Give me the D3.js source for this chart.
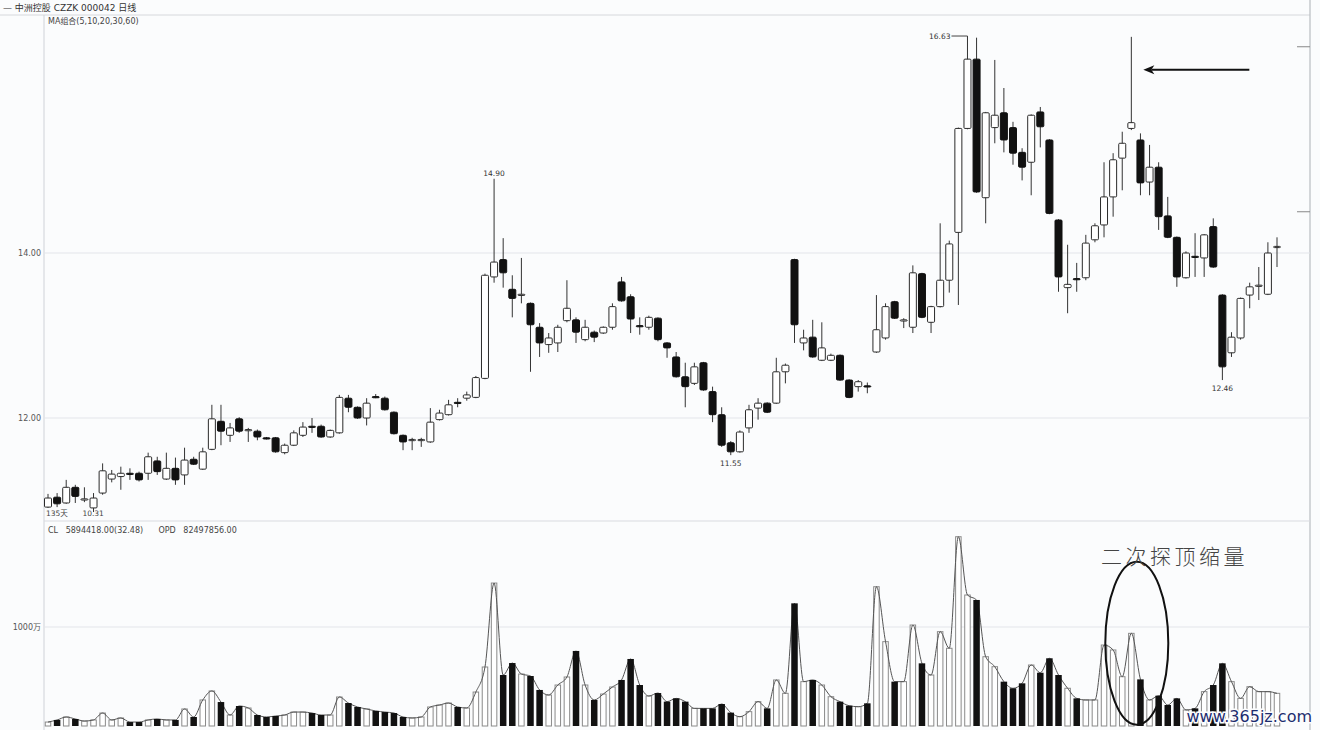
<!DOCTYPE html>
<html><head><meta charset="utf-8">
<script src="https://cdn.jsdelivr.net/npm/d3@7/dist/d3.min.js"></script>
<style>
body{margin:0;background:#fbfcfd}
svg{display:block}
text{font-family:"DejaVu Sans","Noto Sans CJK SC",sans-serif}
</style>
</head><body>
<svg id="chart" width="1320" height="730"></svg>
<script>
// ---- data ----
const opens = [10.92,11.04,10.97,11.16,11.01,10.91,11.09,11.26,11.29,11.33,11.33,11.33,11.48,11.26,11.39,11.31,11.50,11.38,11.62,11.96,
11.79,11.99,11.85,11.84,11.76,11.76,11.58,11.67,11.79,11.90,11.90,11.77,11.82,12.24,12.13,12.00,12.26,12.24,12.07,11.79,
11.73,11.73,11.71,11.98,12.04,12.19,12.24,12.25,12.48,13.71,13.92,13.56,13.49,13.39,13.10,12.89,12.91,13.18,13.19,12.95,
13.04,13.03,13.10,13.65,13.47,13.12,13.10,13.21,12.91,12.74,12.50,12.42,12.67,12.32,12.04,11.70,11.59,11.88,12.12,12.18,
12.18,12.56,13.92,12.91,12.98,12.70,12.70,12.76,12.46,12.38,12.39,12.80,12.97,13.41,13.18,13.10,13.75,13.16,13.35,13.67,
14.25,15.51,16.35,14.67,15.52,15.70,15.52,15.22,15.10,15.71,15.37,14.40,13.58,13.69,13.70,14.16,14.34,14.68,15.15,15.51,
15.37,14.86,15.04,14.45,14.19,13.70,13.96,13.94,14.32,13.49,12.79,12.97,13.49,13.60,13.50,14.07];
const highs = [11.08,11.09,11.25,11.19,11.16,11.09,11.45,11.37,11.41,11.39,11.35,11.58,11.53,11.58,11.52,11.64,11.53,11.64,12.16,12.16,
11.94,12.01,11.88,11.86,11.77,11.77,11.69,11.85,11.95,12.00,11.92,11.86,12.28,12.28,12.14,12.24,12.29,12.26,12.08,11.80,
11.76,11.76,12.12,12.10,12.22,12.24,12.32,12.51,13.75,14.90,14.18,13.73,13.94,13.40,13.15,13.03,13.13,13.67,13.22,13.19,
13.06,13.11,13.39,13.71,13.50,13.22,13.24,13.22,12.92,12.80,12.67,12.67,12.68,12.38,12.13,11.72,11.85,12.16,12.24,12.19,
12.73,12.66,13.93,13.07,13.19,13.16,12.78,12.77,12.47,12.46,12.43,13.49,13.39,13.42,13.21,13.85,13.76,13.36,14.36,14.15,
15.52,16.63,16.61,15.71,16.34,16.00,15.59,15.27,15.68,15.77,15.38,14.41,14.10,13.88,14.22,14.36,15.10,15.21,15.47,16.62,
15.45,15.31,15.10,14.68,14.20,14.02,14.24,14.23,14.42,13.50,13.04,13.46,13.64,13.83,14.13,14.19];
const lows = [10.91,10.92,10.96,10.97,10.98,10.86,11.07,11.22,11.13,11.25,11.23,11.25,11.31,11.25,11.19,11.19,11.43,11.37,11.61,11.67,
11.71,11.82,11.71,11.73,11.74,11.58,11.56,11.66,11.77,11.82,11.76,11.76,11.81,12.07,11.99,11.91,12.24,12.09,11.80,11.61,
11.61,11.65,11.70,11.97,12.03,12.13,12.21,12.24,12.47,13.64,13.58,13.22,13.39,12.56,12.74,12.79,12.80,13.16,12.91,12.93,
12.92,13.02,13.07,13.41,13.03,13.01,13.07,12.93,12.73,12.49,12.13,12.40,12.33,11.95,11.65,11.55,11.58,11.82,11.98,12.06,
12.17,12.42,12.91,12.82,12.73,12.69,12.69,12.45,12.24,12.32,12.30,12.79,12.95,13.20,13.09,13.03,13.21,13.03,13.34,13.52,
13.37,15.50,14.73,14.36,15.33,15.22,15.07,14.88,14.70,15.28,14.47,13.53,13.27,13.53,13.67,14.13,14.19,14.44,14.76,15.49,
14.70,14.70,14.28,14.18,13.59,13.69,13.71,13.71,13.82,12.46,12.74,12.95,13.33,13.43,13.49,13.83];
const closes = [11.03,10.96,11.16,11.05,11.02,11.03,11.36,11.32,11.33,11.32,11.25,11.53,11.35,11.39,11.25,11.49,11.44,11.59,11.99,11.84,
11.88,11.84,11.86,11.77,11.75,11.59,11.67,11.82,11.89,11.89,11.77,11.85,12.25,12.13,12.00,12.18,12.25,12.10,11.81,11.71,
11.74,11.74,11.95,12.06,12.16,12.18,12.28,12.49,13.73,13.89,13.76,13.45,13.50,13.13,12.91,12.97,13.10,13.33,13.04,13.10,
12.98,13.10,13.35,13.42,13.20,13.11,13.22,12.95,12.85,12.50,12.38,12.62,12.34,12.04,11.67,11.59,11.83,12.10,12.18,12.07,
12.56,12.64,13.13,12.97,12.74,12.85,12.76,12.46,12.25,12.44,12.38,13.07,13.35,13.21,13.19,13.76,13.22,13.35,13.67,14.11,
15.51,16.35,14.74,15.70,15.67,15.37,15.21,15.04,15.67,15.53,14.48,13.71,13.62,13.68,14.12,14.33,14.68,15.13,15.33,15.58,
14.85,15.04,14.44,14.19,13.71,14.00,13.95,14.22,13.83,12.62,12.98,13.45,13.59,13.61,14.00,14.08];
const volumes = [40,61,91,71,50,61,131,61,81,40,40,61,71,61,61,172,91,263,354,242,
111,202,182,111,91,101,111,141,141,131,111,111,293,232,192,172,152,141,131,91,
81,91,192,212,232,192,182,343,596,1444,515,636,525,505,364,313,414,495,758,414,
263,323,394,465,677,414,303,333,246,279,246,178,178,178,222,135,94,145,246,178,
465,330,1239,448,465,414,296,246,205,195,229,1407,852,448,448,1020,633,515,953,785,
1912,1323,1273,700,599,448,381,431,616,538,684,515,381,279,263,263,818,768,498,936,
471,263,306,212,279,162,178,347,414,633,448,279,397,347,347,330];
const priceTicks = [12, 14];
const volumeTicks = [1000];
const sideTicks = [14.5, 16.5];

// ---- scales ----
const svg = d3.select("#chart");
const W = 1320, H = 730;
const n = opens.length;
const x = d3.scaleLinear().domain([0, n - 1]).range([48, 1277]);
const y = d3.scaleLinear().domain([12, 14]).range([418, 253]);
const yv = d3.scaleLinear().domain([0, 1000]).range([726, 627]);
const left = 44, right = 1310, priceBottom = 521, topLine = 15;

svg.append("rect").attr("width", W).attr("height", H).attr("fill", "#fbfcfd");

// frame
svg.append("line").attr("x1", 0).attr("x2", right).attr("y1", topLine).attr("y2", topLine)
  .attr("stroke", "#d6d8dc").attr("stroke-width", 1);
svg.append("line").attr("x1", left).attr("x2", left).attr("y1", topLine).attr("y2", H)
  .attr("stroke", "#cfd2d8").attr("stroke-width", 1);
svg.append("line").attr("x1", right).attr("x2", right).attr("y1", 0).attr("y2", H)
  .attr("stroke", "#b9bcc2").attr("stroke-width", 1.2);
svg.append("line").attr("x1", left).attr("x2", right).attr("y1", priceBottom).attr("y2", priceBottom)
  .attr("stroke", "#d9dbe0").attr("stroke-width", 1);
svg.selectAll("line.side").data(sideTicks).join("line").attr("class", "side")
  .attr("x1", right - 13).attr("x2", right).attr("y1", d => y(d)).attr("y2", d => y(d))
  .attr("stroke", "#888").attr("stroke-width", 1);

// grid
svg.selectAll("line.pg").data(priceTicks).join("line").attr("class", "pg")
  .attr("x1", left).attr("x2", right).attr("y1", d => y(d)).attr("y2", d => y(d))
  .attr("stroke", "#e3e5ea").attr("stroke-width", 1);
svg.selectAll("line.vg").data(volumeTicks).join("line").attr("class", "vg")
  .attr("x1", left).attr("x2", right).attr("y1", d => yv(d)).attr("y2", d => yv(d))
  .attr("stroke", "#e3e5ea").attr("stroke-width", 1);

// axes
const pa = svg.append("g").attr("transform", `translate(${left - 1},0)`)
  .call(d3.axisLeft(y).tickValues(priceTicks).tickSize(0).tickPadding(2).tickFormat(d3.format(".2f")));
pa.select(".domain").remove();
pa.selectAll("text").attr("font-size", 8).attr("fill", "#555");
const va = svg.append("g").attr("transform", `translate(${left - 1},0)`)
  .call(d3.axisLeft(yv).tickValues(volumeTicks).tickSize(0).tickPadding(2).tickFormat(d => d + "万"));
va.select(".domain").remove();
va.selectAll("text").attr("font-size", 8).attr("fill", "#555");

// header texts
svg.append("text").attr("x", 3).attr("y", 11).attr("font-size", 9).attr("fill", "#333")
  .text("— 中洲控股 CZZK 000042 日线");
svg.append("text").attr("x", 48).attr("y", 24).attr("font-size", 8).attr("fill", "#444")
  .text("MA组合(5,10,20,30,60)");
svg.append("text").attr("x", 48).attr("y", 533).attr("font-size", 8).attr("fill", "#444")
  .attr("xml:space", "preserve")
  .text("CL   5894418.00(32.48)      OPD   82497856.00");
svg.append("text").attr("x", x(0) - 2).attr("y", 516).attr("font-size", 7.5).attr("fill", "#444").text("135天");
svg.append("text").attr("x", x(4) - 2).attr("y", 516).attr("font-size", 7.5).attr("fill", "#444").text("10.31");

// candles
const idx = d3.range(n);
const up = i => closes[i] >= opens[i];
const cw = 7;
svg.append("g").selectAll("line").data(idx).join("line")
  .attr("x1", i => x(i)).attr("x2", i => x(i))
  .attr("y1", i => y(highs[i])).attr("y2", i => y(lows[i]))
  .attr("stroke", "#333").attr("stroke-width", 1);
svg.append("g").selectAll("rect").data(idx).join("rect")
  .attr("x", i => x(i) - cw / 2)
  .attr("y", i => y(Math.max(opens[i], closes[i])))
  .attr("width", cw)
  .attr("height", i => Math.max(1.2, Math.abs(y(opens[i]) - y(closes[i]))))
  .attr("rx", 1)
  .attr("fill", i => up(i) ? "#ffffff" : "#111")
  .attr("stroke", i => up(i) ? "#2a2a2a" : "#111")
  .attr("stroke-width", 1);

// price labels
const lbl = (i, val, dy, anchor, dx) => svg.append("text").attr("x", x(i) + (dx || 0)).attr("y", y(val) + dy)
  .attr("font-size", 7.5).attr("fill", "#333").attr("text-anchor", anchor || "middle").text(val.toFixed(2));
const iMax = d3.maxIndex(highs);
lbl(iMax, highs[iMax], 3, "end", -17);
svg.append("line").attr("x1", x(iMax) - 16).attr("x2", x(iMax)).attr("y1", y(highs[iMax])).attr("y2", y(highs[iMax]))
  .attr("stroke", "#444").attr("stroke-width", 1);
lbl(49, highs[49], -3);
lbl(75, lows[75], 11);
lbl(129, lows[129], 11);

// arrow annotation (head pointing left toward the long upper shadow)
const arrowY = y(16.22);
const ax0 = x(119) + 12, ax1 = x(119) + 118;
svg.append("line").attr("x1", ax1).attr("x2", ax0 + 8).attr("y1", arrowY).attr("y2", arrowY)
  .attr("stroke", "#111").attr("stroke-width", 2);
svg.append("path")
  .attr("d", `M${ax0},${arrowY} L${ax0 + 11},${arrowY - 4.5} L${ax0 + 8},${arrowY} L${ax0 + 11},${arrowY + 4.5} Z`)
  .attr("fill", "#111");

// volume bars
const vw = 6.5;
svg.append("g").selectAll("rect").data(idx.filter(up)).join("rect")
  .attr("x", i => x(i) - vw / 2 + 0.5).attr("y", i => yv(volumes[i]))
  .attr("width", vw - 1).attr("height", i => yv(0) - yv(volumes[i]))
  .attr("fill", "#ffffff").attr("stroke", "#8a8a8a").attr("stroke-width", 1);
svg.append("path").datum(idx)
  .attr("d", d3.line().x(i => x(i)).y(i => yv(volumes[i])).curve(d3.curveMonotoneX))
  .attr("fill", "none").attr("stroke", "#555").attr("stroke-width", 1);
svg.append("g").selectAll("rect").data(idx.filter(i => !up(i))).join("rect")
  .attr("x", i => x(i) - vw / 2).attr("y", i => yv(volumes[i]))
  .attr("width", vw).attr("height", i => yv(0) - yv(volumes[i]))
  .attr("fill", "#111");

// ellipse + caption
svg.append("ellipse").attr("cx", x(119.6)).attr("cy", yv(835)).attr("rx", 31.5).attr("ry", 81.5)
  .attr("fill", "none").attr("stroke", "#111").attr("stroke-width", 2);
svg.append("text").attr("x", x(116) - 3).attr("y", yv(1640)).attr("font-size", 21)
  .attr("letter-spacing", 3.5).attr("fill", "#444").attr("font-weight", 300).text("二次探顶缩量");

// watermark
svg.append("text").attr("x", 1312).attr("y", 722).attr("text-anchor", "end")
  .attr("font-family", "'Liberation Serif','DejaVu Serif',serif").attr("font-size", 16)
  .attr("fill", "#1d2c6e").attr("stroke", "#fbfcfd").attr("stroke-width", 3).attr("paint-order", "stroke")
  .text("www.365jz.com");
</script>
</body></html>
